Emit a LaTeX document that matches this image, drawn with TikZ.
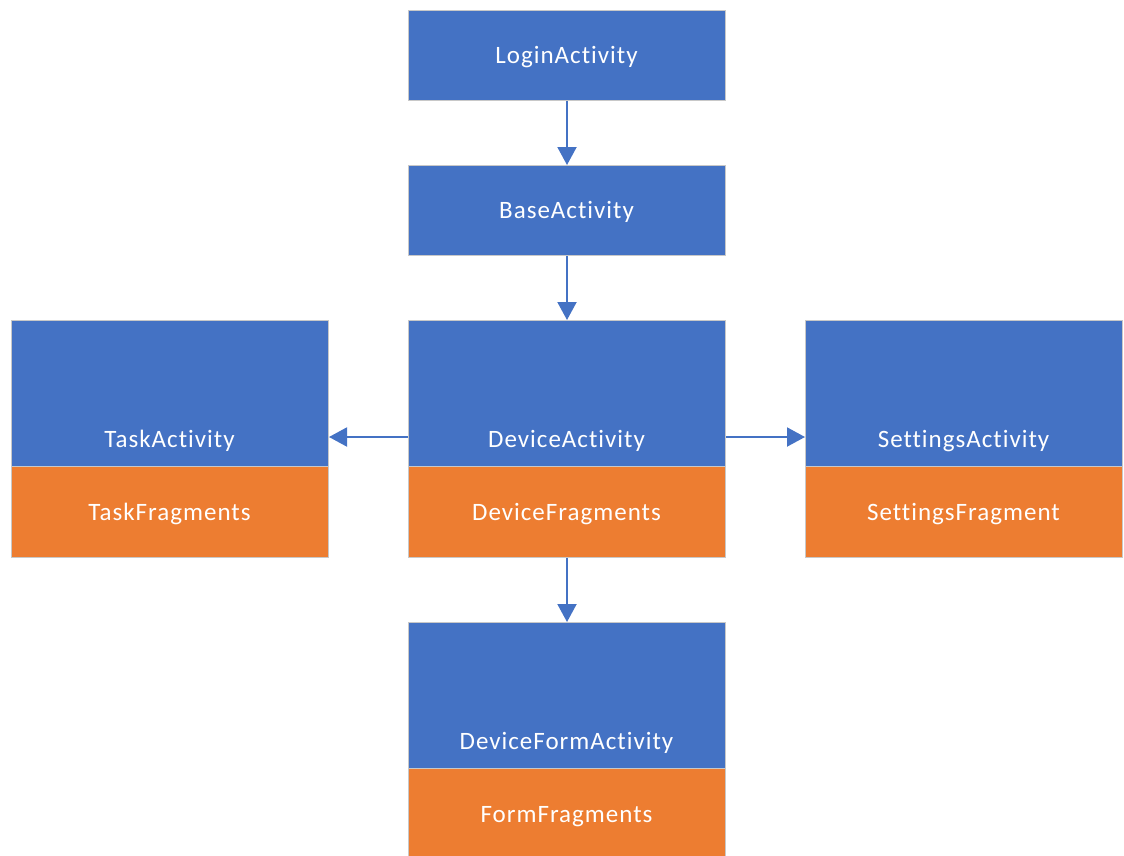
\documentclass[tikz,border=0pt]{standalone}
\usepackage{fontspec}
\setmainfont[Ligatures=NoCommon,LetterSpace=4]{Carlito}
\usetikzlibrary{arrows.meta,calc}
\definecolor{cblue}{HTML}{4472C4}
\definecolor{corange}{HTML}{ED7D31}
\definecolor{cedge}{HTML}{C8C8C8}
\tikzset{
  box/.style={draw=cedge, line width=1pt, inner sep=0pt, minimum width=317pt, anchor=north west},
  bluebox/.style={box, fill=cblue},
  orangebox/.style={box, fill=corange},
  lbl/.style={text=white, font=\fontsize{25}{25}\selectfont, inner sep=0pt, anchor=base},
  conn/.style={draw=cblue, line width=2pt, -{Triangle[width=19pt,length=18pt]}}
}
\begin{document}
\begin{tikzpicture}[x=1pt,y=-1pt]
\useasboundingbox (0,0) rectangle (1124,855);
% Login
\node[bluebox, minimum height=90pt] (login) at (408,10) {};
\node[lbl] (loginT) at (566.5,63) {LoginActivity};
% Base
\node[bluebox, minimum height=90pt] (base) at (408,165) {};
\node[lbl] (baseT) at (566.5,218) {BaseActivity};
% Device
\node[bluebox, minimum height=146pt] (dev) at (408,320) {};
\node[orangebox, minimum height=91pt] (devf) at (408,466) {};
\node[lbl] (devT) at (566.5,447) {DeviceActivity};
\node[lbl] (devfT) at (566.5,520) {DeviceFragments};
% Task
\node[bluebox, minimum height=146pt] (task) at (11,320) {};
\node[orangebox, minimum height=91pt] (taskf) at (11,466) {};
\node[lbl] (taskT) at (169.5,447) {TaskActivity};
\node[lbl] (taskfT) at (169.5,520) {TaskFragments};
% Settings
\node[bluebox, minimum height=146pt] (set) at (805,320) {};
\node[orangebox, minimum height=91pt] (setf) at (805,466) {};
\node[lbl] (setT) at (963.5,447) {SettingsActivity};
\node[lbl] (setfT) at (963.5,520) {SettingsFragment};
% DeviceForm
\node[bluebox, minimum height=146pt] (form) at (408,622) {};
\node[orangebox, minimum height=95pt] (formf) at (408,768) {};
\node[lbl] (formT) at (566.5,749) {DeviceFormActivity};
\node[lbl] (formfT) at (566.5,822) {FormFragments};
% connectors
\coordinate (mid) at (0,437);
\draw[conn] (dev.west |- mid) -- (task.east |- mid);
\draw[conn] (dev.east |- mid) -- (set.west |- mid);
\draw[conn] (login.south) -- (base.north);
\draw[conn] (base.south) -- (dev.north);
\draw[conn] (devf.south) -- (form.north);
\end{tikzpicture}
\end{document}
